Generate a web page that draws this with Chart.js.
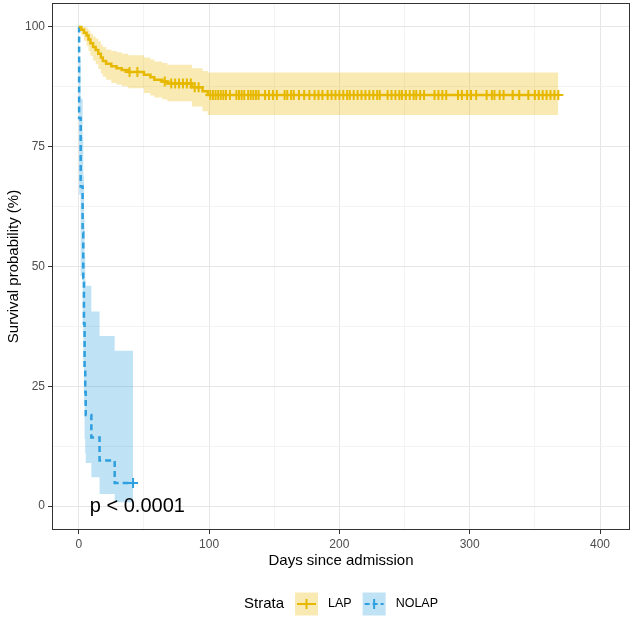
<!DOCTYPE html>
<html>
<head>
<meta charset="utf-8">
<script src="https://cdn.jsdelivr.net/npm/chart.js@4.4.0/dist/chart.umd.min.js"></script>
<style>
  html, body { margin: 0; padding: 0; background: #fff; }
</style>
</head>
<body>
<canvas id="km" width="632" height="623"></canvas>
<script>
// Kaplan-Meier estimates (days, survival %)
var lapTimes  = [0, 2, 4, 6, 7.5, 9, 11, 13, 15, 17, 18.5, 21, 25, 29, 33, 38, 50, 55, 58, 64, 68, 87, 95, 99, 368];
var lapSurv   = [100, 99.4, 98.8, 98.2, 97.4, 96.6, 95.8, 95.2, 94.4, 93.6, 92.9, 92.3, 91.8, 91.4, 91.0, 90.6, 90.0, 89.5, 89.0, 88.6, 88.2, 87.4, 86.6, 85.8, 85.8];
var lapUpper  = [100, 100, 100, 99.7, 99.2, 98.6, 98.0, 97.6, 97.0, 96.3, 95.8, 95.3, 95.0, 94.7, 94.4, 94.1, 93.6, 93.2, 92.8, 92.5, 92.1, 91.4, 90.8, 90.5, 90.5];
var lapLower  = [100, 98.2, 97.1, 96.1, 95.0, 94.0, 93.0, 92.2, 91.2, 90.3, 89.6, 89.0, 88.3, 88.0, 87.6, 87.2, 86.2, 85.7, 85.3, 84.9, 84.5, 83.4, 82.4, 81.6, 81.4];
var lapCensor = [39, 45, 66, 71, 74, 77, 80, 83, 86, 89, 92, 101, 103, 105, 107, 109, 111, 113, 116,
  121, 123, 125, 127, 130, 132, 134, 136, 138, 143, 146, 149, 152, 158, 160, 163, 165, 169, 173, 177,
  181, 184, 187, 191, 194, 197, 200, 203, 206, 208, 211, 214, 217, 220, 223, 226, 229, 231, 237, 240,
  243, 246, 248, 251, 254, 257, 259, 262, 265, 273, 276, 279, 282, 291, 294, 298, 301, 305, 313, 317,
  319, 323, 326, 333, 338, 345, 350, 353, 356, 359, 362, 365, 368];

var nolapTimes  = [0, 0.3, 1.5, 3, 3.5, 4, 4.5, 5, 5.4, 9.7, 16, 27.6, 41.7];
var nolapSurv   = [100, 81.0, 66.7, 57.1, 47.6, 38.1, 28.6, 23.8, 19.0, 14.3, 9.5, 4.8, 4.8];
var nolapUpper  = [100, 93, 85, 77, 69, 60, 52, 47, 46, 40.6, 35.5, 32.4, 32.4];
var nolapLower  = [100, 65, 48, 38, 29, 21, 14, 11, 9, 6, 2.5, 0.8, 0.8];
var nolapCensor = [41.7];

var strata = ['LAP', 'NOLAP'];
var xTickLabels = [0, 100, 200, 300, 400];
var xMinor = [50, 150, 250, 350];
var yTickLabels = [0, 25, 50, 75, 100];
var yMinor = [12.5, 37.5, 62.5, 87.5];
var pValueText = 'p < 0.0001';

var lapColor = '#E7B800', nolapColor = '#2E9FDF';
var lapBand = 'rgba(231,184,0,0.3)', nolapBand = 'rgba(46,159,223,0.3)';
var font = '"Liberation Sans", Arial, sans-serif';

function pts(t, v) {
  return t.map(function (x, i) { return {x: x, y: v[i]}; });
}
// value of the step curve at time x
function survAt(t, s, x) {
  var y = s[0];
  for (var i = 0; i < t.length; i++) if (t[i] <= x) y = s[i];
  return y;
}
function censorPts(c, t, s) {
  return c.map(function (x) { return {x: x, y: survAt(t, s, x)}; });
}
function breaks(major, minor) {
  return major.concat(minor).sort(function (a, b) { return a - b; });
}
function isMajor(list, v) { return list.indexOf(v) >= 0; }

var kmExtras = {
  id: 'kmExtras',
  afterDatasetsDraw: function (chart) {
    var ctx = chart.ctx, ca = chart.chartArea;
    var x = chart.scales.x, y = chart.scales.y;
    ctx.save();
    ctx.fillStyle = '#000';
    ctx.font = '20px ' + font;
    ctx.textAlign = 'left';
    ctx.textBaseline = 'middle';
    ctx.fillText(pValueText, x.getPixelForValue(8.5), y.getPixelForValue(0));
    ctx.strokeStyle = '#333333';
    ctx.lineWidth = 1;
    ctx.strokeRect(ca.left + 0.5, ca.top + 0.5, ca.right - ca.left - 1, ca.bottom - ca.top - 1);
    ctx.restore();
  },
  afterDraw: function (chart) {
    var ctx = chart.ctx, ca = chart.chartArea;
    var cols = [lapColor, nolapColor], bands = [lapBand, nolapBand], dashes = [[], [5, 3]];
    var cy = 604, key = 23;
    ctx.save();
    ctx.textBaseline = 'middle';
    ctx.font = '15px ' + font;
    var titleW = ctx.measureText('Strata').width;
    ctx.font = '12.5px ' + font;
    var labW = strata.map(function (s) { return ctx.measureText(s).width; });
    var total = titleW + 11 + (key + 10) * 2 + labW[0] + 11 + labW[1];
    var px = (ca.left + ca.right) / 2 - total / 2;
    ctx.fillStyle = '#000';
    ctx.font = '15px ' + font;
    ctx.fillText('Strata', px, cy);
    px += titleW + 11;
    for (var i = 0; i < strata.length; i++) {
      ctx.fillStyle = bands[i];
      ctx.fillRect(px, cy - key / 2, key, key);
      ctx.strokeStyle = cols[i];
      ctx.lineWidth = 2;
      ctx.setLineDash(dashes[i]);
      ctx.beginPath();
      ctx.moveTo(px + 2, cy); ctx.lineTo(px + key - 2, cy);
      ctx.stroke();
      ctx.setLineDash([]);
      ctx.beginPath();
      ctx.moveTo(px + key / 2, cy - 5); ctx.lineTo(px + key / 2, cy + 5);
      ctx.stroke();
      px += key + 10;
      ctx.fillStyle = '#000';
      ctx.font = '12.5px ' + font;
      ctx.fillText(strata[i], px, cy);
      px += labW[i] + 11;
    }
    ctx.restore();
  }
};

function lineSet(label, t, s, color, dash) {
  return {
    label: label, data: pts(t, s), stepped: true, borderColor: color, borderWidth: 2.5,
    borderDash: dash, pointRadius: 0, fill: false, order: 0
  };
}
function censorSet(label, c, t, s, color) {
  return {
    label: label, data: censorPts(c, t, s), showLine: false, pointStyle: 'cross',
    pointRadius: 5, pointBorderWidth: 2, pointBorderColor: color, borderColor: color, order: 0
  };
}
function bandSet(label, t, v, fill, bg) {
  return {
    label: label, data: pts(t, v), stepped: true, borderColor: 'transparent', borderWidth: 0,
    pointRadius: 0, fill: fill, backgroundColor: bg, order: 1
  };
}

new Chart(document.getElementById('km').getContext('2d'), {
  type: 'line',
  data: {
    datasets: [
      lineSet('LAP', lapTimes, lapSurv, lapColor, []),
      lineSet('NOLAP', nolapTimes, nolapSurv, nolapColor, [6, 4]),
      censorSet('LAP censored', lapCensor, lapTimes, lapSurv, lapColor),
      censorSet('NOLAP censored', nolapCensor, nolapTimes, nolapSurv, nolapColor),
      bandSet('LAP lower', lapTimes, lapLower, false, lapBand),
      bandSet('LAP upper', lapTimes, lapUpper, '-1', lapBand),
      bandSet('NOLAP lower', nolapTimes, nolapLower, false, nolapBand),
      bandSet('NOLAP upper', nolapTimes, nolapUpper, '-1', nolapBand)
    ]
  },
  options: {
    responsive: false,
    animation: false,
    devicePixelRatio: 1,
    layout: { autoPadding: false, padding: { top: 3, right: 2, left: 0, bottom: 0 } },
    plugins: {
      legend: { display: false },
      tooltip: { enabled: false },
      filler: { drawTime: 'beforeDatasetsDraw' }
    },
    scales: {
      x: {
        type: 'linear', min: -20.5, max: 423,
        afterFit: function (s) { s.height = 93; s.paddingLeft = 0; s.paddingRight = 0; },
        afterBuildTicks: function (s) {
          s.ticks = breaks(xTickLabels, xMinor).map(function (v) { return {value: v}; });
        },
        ticks: {
          autoSkip: false, maxRotation: 0, padding: 3, color: '#4D4D4D',
          font: { family: font, size: 12 },
          callback: function (v) { return isMajor(xTickLabels, v) ? String(v) : ''; }
        },
        grid: {
          tickLength: 4,
          color: function (c) { return isMajor(xTickLabels, c.tick.value) ? '#E6E6E6' : '#F3F3F3'; },
          tickColor: function (c) { return isMajor(xTickLabels, c.tick.value) ? '#333333' : 'rgba(0,0,0,0)'; }
        },
        border: { display: false },
        title: {
          display: true, text: 'Days since admission', color: '#000',
          font: { family: font, size: 15 }, padding: { top: 0, bottom: 53 }
        }
      },
      y: {
        type: 'linear', min: -5, max: 105,
        afterFit: function (s) { s.width = 52; s.paddingTop = 0; s.paddingBottom = 0; },
        afterBuildTicks: function (s) {
          s.ticks = breaks(yTickLabels, yMinor).map(function (v) { return {value: v}; });
        },
        ticks: {
          autoSkip: false, padding: 3, color: '#4D4D4D',
          font: { family: font, size: 12 },
          callback: function (v) { return isMajor(yTickLabels, v) ? String(v) : ''; }
        },
        grid: {
          tickLength: 4,
          color: function (c) { return isMajor(yTickLabels, c.tick.value) ? '#E6E6E6' : '#F3F3F3'; },
          tickColor: function (c) { return isMajor(yTickLabels, c.tick.value) ? '#333333' : 'rgba(0,0,0,0)'; }
        },
        border: { display: false },
        title: {
          display: true, text: 'Survival probability (%)', color: '#000',
          font: { family: font, size: 15 }, padding: { top: 5, bottom: 0 }
        }
      }
    }
  },
  plugins: [kmExtras]
});
</script>
</body>
</html>
